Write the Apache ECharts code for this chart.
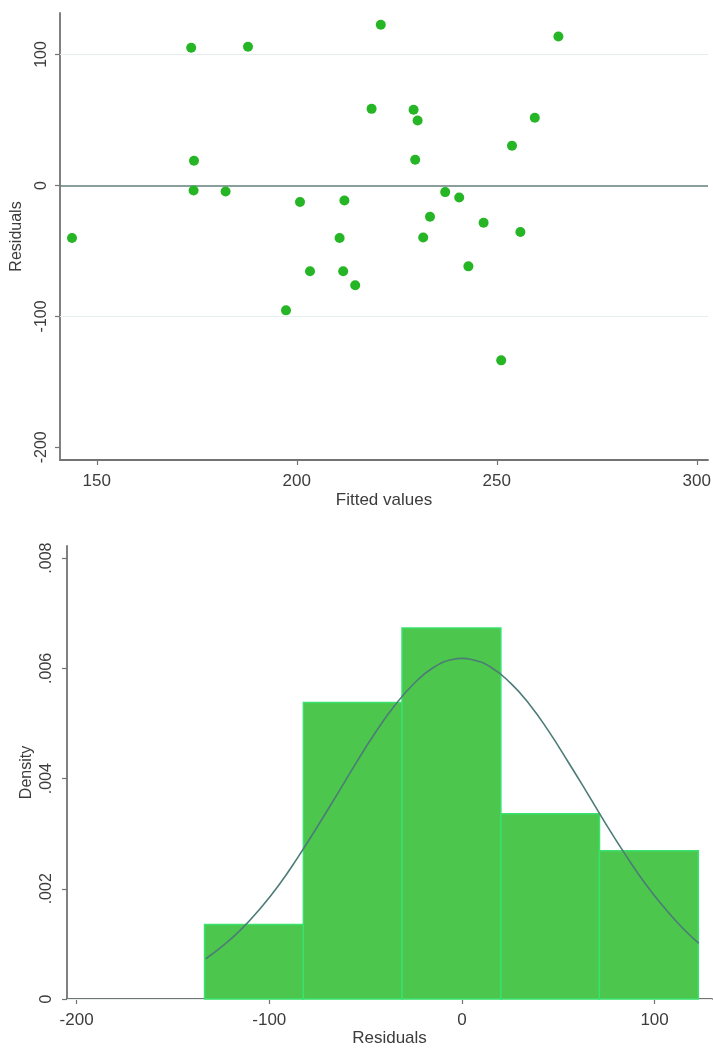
<!DOCTYPE html>
<html>
<head>
<meta charset="utf-8">
<script src="https://cdn.jsdelivr.net/npm/echarts@6/dist/echarts.min.js"></script>
<style>
html,body{margin:0;padding:0;background:#fff;}
#chart{width:713px;height:1049px;}
</style>
</head>
<body>
<div id="chart"></div>
<script>
// ---- Data ----
const fittedValues = [143.8, 173.6, 187.8, 174.3, 174.2, 182.2, 221.0, 218.7, 229.2, 230.2,
  229.6, 265.4, 259.5, 253.8, 200.8, 211.9, 210.7, 203.3, 211.6, 214.6,
  197.3, 237.1, 240.6, 233.3, 231.6, 246.7, 255.9, 242.9, 251.1];
const residuals = [-40.2, 105.1, 105.9, 18.9, -3.8, -4.6, 122.7, 58.5, 57.8, 49.6,
  19.6, 113.7, 51.7, 30.3, -12.7, -11.5, -40.2, -65.6, -65.6, -76.3,
  -95.4, -5.1, -9.2, -23.9, -39.7, -28.5, -35.6, -61.8, -133.6];

const binEdges = [-133.6, -82.3, -31.1, 20.2, 71.4, 122.7];
const binDensity = [0.00135, 0.00538, 0.00673, 0.00336, 0.00269];

const curveX = [-133, -125, -115, -105, -95, -85, -75, -65, -55, -45, -35, -25, -15, -5, 0,
  5, 15, 25, 35, 45, 55, 65, 75, 85, 95, 105, 115, 123];
const curveY = [0.00073, 0.00094, 0.00125, 0.00163, 0.00207, 0.00258, 0.00313, 0.00370,
  0.00428, 0.00483, 0.00532, 0.00572, 0.00601, 0.00616, 0.00618, 0.00616, 0.00602, 0.00574,
  0.00535, 0.00486, 0.00431, 0.00374, 0.00316, 0.00261, 0.00210, 0.00166, 0.00127, 0.00101];

const topXTicks = [150, 200, 250, 300];
const topYTicks = [-200, -100, 0, 100];
const topYGrid = [100, -100];
const botXTicks = [-200, -100, 0, 100];
const botYTicks = [0, 0.002, 0.004, 0.006, 0.008];
const botYLabels = ['0', '.002', '.004', '.006', '.008'];
const botYGrid = [0.002, 0.004, 0.006];

// ---- Styles ----
const FONT = "'Liberation Sans', Arial, sans-serif";
const TXT = '#3c3c3c';
const AX = '#737373';
const GRID = '#e6eeee';

function axisBase() {
  return {
    axisLine: { show: true, onZero: false, lineStyle: { color: AX, width: 1.8 } },
    splitLine: { show: false },
    nameMoveOverlap: false
  };
}
function tick(vals) {
  return { show: true, length: 5, customValues: vals, lineStyle: { color: AX, width: 1.2 } };
}

const chart = echarts.init(document.getElementById('chart'), null, { renderer: 'canvas' });

const option = {
  backgroundColor: '#ffffff',
  animation: false,
  grid: [
    { left: 60, right: 5, top: 13, bottom: 589, outerBoundsMode: 'none', containLabel: false },
    { left: 67, right: 1, top: 546, bottom: 50, outerBoundsMode: 'none', containLabel: false }
  ],
  xAxis: [
    Object.assign(axisBase(), {
      type: 'value', gridIndex: 0, min: 140.8, max: 302.8,
      name: 'Fitted values', nameLocation: 'middle', nameGap: 32,
      nameTextStyle: { color: TXT, fontSize: 17, fontFamily: FONT },
      axisTick: tick(topXTicks),
      axisLabel: { customValues: topXTicks, margin: 13, color: TXT, fontSize: 17, fontFamily: FONT }
    }),
    Object.assign(axisBase(), {
      type: 'value', gridIndex: 1, min: -205.0, max: 129.8,
      name: 'Residuals', nameLocation: 'middle', nameGap: 31,
      nameTextStyle: { color: TXT, fontSize: 17, fontFamily: FONT },
      axisTick: tick(botXTicks),
      axisLabel: { customValues: botXTicks, margin: 13, color: TXT, fontSize: 17, fontFamily: FONT }
    })
  ],
  yAxis: [
    Object.assign(axisBase(), {
      type: 'value', gridIndex: 0, min: -209.7, max: 131.7,
      name: 'Residuals', nameLocation: 'middle', nameGap: 35, nameRotate: 90,
      nameTextStyle: { color: TXT, fontSize: 16, fontFamily: FONT },
      axisTick: tick(topYTicks),
      axisLabel: { customValues: topYTicks, rotate: 90, margin: 10, color: TXT, fontSize: 16, fontFamily: FONT }
    }),
    Object.assign(axisBase(), {
      type: 'value', gridIndex: 1, min: 0, max: 0.00822,
      name: 'Density', nameLocation: 'middle', nameGap: 32, nameRotate: 90,
      nameTextStyle: { color: TXT, fontSize: 16, fontFamily: FONT },
      axisTick: tick(botYTicks),
      axisLabel: {
        customValues: botYTicks, rotate: 90, margin: 12, color: TXT, fontSize: 16, fontFamily: FONT,
        formatter: function (v) {
          for (let i = 0; i < botYTicks.length; i++) {
            if (Math.abs(botYTicks[i] - v) < 1e-9) return botYLabels[i];
          }
          return '';
        }
      }
    })
  ],
  series: [
    {
      type: 'scatter', xAxisIndex: 0, yAxisIndex: 0,
      data: fittedValues.map((x, i) => [x, residuals[i]]),
      symbolSize: 10,
      itemStyle: { color: '#25b525', opacity: 1 },
      z: 5,
      markLine: {
        silent: true, symbol: 'none', label: { show: false },
        data: topYGrid.map(v => ({ yAxis: v, lineStyle: { color: GRID, width: 1, type: 'solid' } }))
          .concat([{ yAxis: 0, lineStyle: { color: '#607f7b', width: 1.6, type: 'solid' } }]),
        z: 1
      }
    },
    {
      type: 'custom', xAxisIndex: 1, yAxisIndex: 1,
      data: binDensity.map((d, i) => [binEdges[i], binEdges[i + 1], d]),
      encode: { x: [0, 1], y: 2 },
      renderItem: function (params, api) {
        const p0 = api.coord([api.value(0), api.value(2)]);
        const p1 = api.coord([api.value(1), 0]);
        return {
          type: 'rect',
          shape: { x: p0[0], y: p0[1], width: p1[0] - p0[0], height: p1[1] - p0[1] },
          style: { fill: '#4cc64c', stroke: '#38e26c', lineWidth: 1.5 }
        };
      },
      z: 3
    },
    {
      type: 'line', xAxisIndex: 1, yAxisIndex: 1,
      data: curveX.map((x, i) => [x, curveY[i]]),
      smooth: true, showSymbol: false, symbol: 'none',
      lineStyle: { color: '#4d7c78', width: 1.6 },
      z: 6,
      markLine: {
        silent: true, symbol: 'none', label: { show: false },
        data: botYGrid.map(v => ({ yAxis: v, lineStyle: { color: GRID, width: 1, type: 'solid' } })),
        z: 1
      }
    }
  ]
};

chart.setOption(option);
</script>
</body>
</html>
